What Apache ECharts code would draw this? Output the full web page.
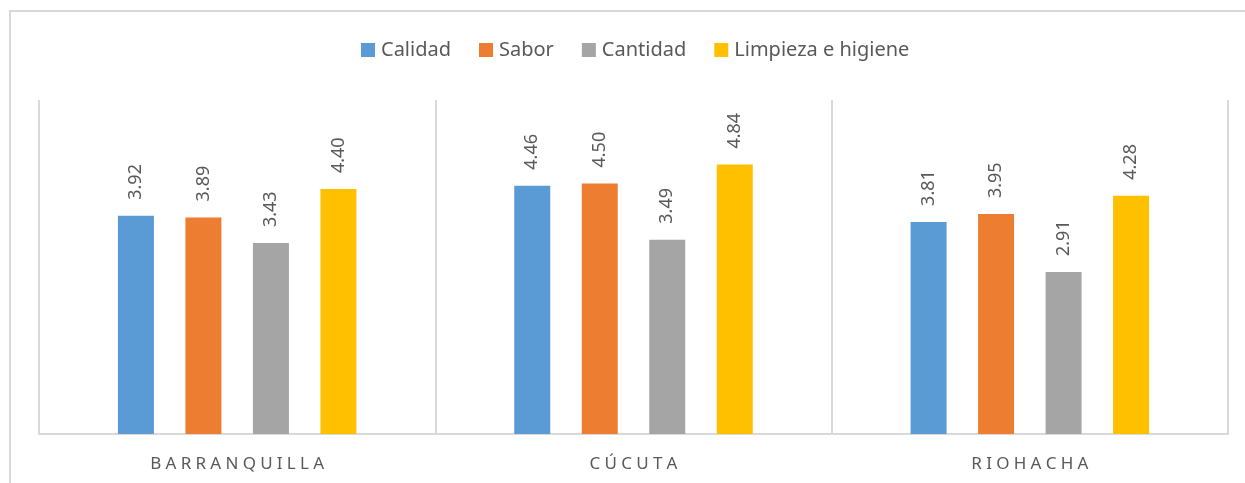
<!DOCTYPE html>
<html>
<head>
<meta charset="utf-8">
<script src="https://cdn.jsdelivr.net/npm/echarts@6/dist/echarts.min.js"></script>
<style>
  html, body { margin: 0; padding: 0; background: #fff; }
  #chart { width: 1245px; height: 483px; }
</style>
</head>
<body>
<div id="chart"></div>
<script>
// datos
var ciudades = ['BARRANQUILLA', 'CÚCUTA', 'RIOHACHA'];
var calidad = [3.92, 4.46, 3.81];
var sabor = [3.89, 4.50, 3.95];
var cantidad = [3.43, 3.49, 2.91];
var limpieza = [4.40, 4.84, 4.28];
var nombres = ['Calidad', 'Sabor', 'Cantidad', 'Limpieza e higiene'];
var colores = ['#5B9BD5', '#ED7D31', '#A5A5A5', '#FFC000'];

var myChart = echarts.init(document.getElementById('chart'));

function serie(nombre, datos, color) {
    return {
        name: nombre,
        type: 'bar',
        data: datos,
        barWidth: 36,
        barGap: '87.5%',
        itemStyle: { color: color },
        label: {
            show: true,
            position: 'top',
            rotate: 90,
            align: 'left',
            verticalAlign: 'middle',
            distance: 16,
            color: '#595959',
            fontFamily: 'Noto Sans',
            fontSize: 18,
            formatter: function (p) { return p.value.toFixed(2); }
        }
    };
}

var option = {
    animation: false,
    color: colores,
    graphic: [{
        type: 'rect',
        shape: { x: 10, y: 11, width: 1260, height: 500 },
        style: { fill: 'none', stroke: '#d9d9d9', lineWidth: 2 },
        silent: true
    }],
    legend: {
        top: 35,
        left: 356,
        itemWidth: 14,
        itemHeight: 14,
        itemGap: 28,
        icon: 'rect',
        textStyle: { color: '#595959', fontSize: 20, fontFamily: 'Noto Sans', padding: [0, 0, 0, 1] },
        data: nombres
    },
    grid: {
        left: 39,
        right: 17,
        top: 100,
        bottom: 49
    },
    xAxis: {
        type: 'category',
        data: ciudades,
        axisTick: { show: false },
        axisLine: { lineStyle: { color: '#d9d9d9', width: 2 } },
        splitLine: { show: true, lineStyle: { color: '#d9d9d9', width: 2 } },
        axisLabel: {
            color: '#595959',
            fontSize: 17,
            fontFamily: 'Noto Sans',
            margin: 22,
            formatter: function (v) { return v.split('').join('\u2005'); }
        }
    },
    yAxis: {
        type: 'value',
        min: 0,
        max: 6,
        show: false,
        splitLine: { show: false }
    },
    series: [
        serie(nombres[0], calidad, colores[0]),
        serie(nombres[1], sabor, colores[1]),
        serie(nombres[2], cantidad, colores[2]),
        serie(nombres[3], limpieza, colores[3])
    ]
};
myChart.setOption(option);
</script>
</body>
</html>
